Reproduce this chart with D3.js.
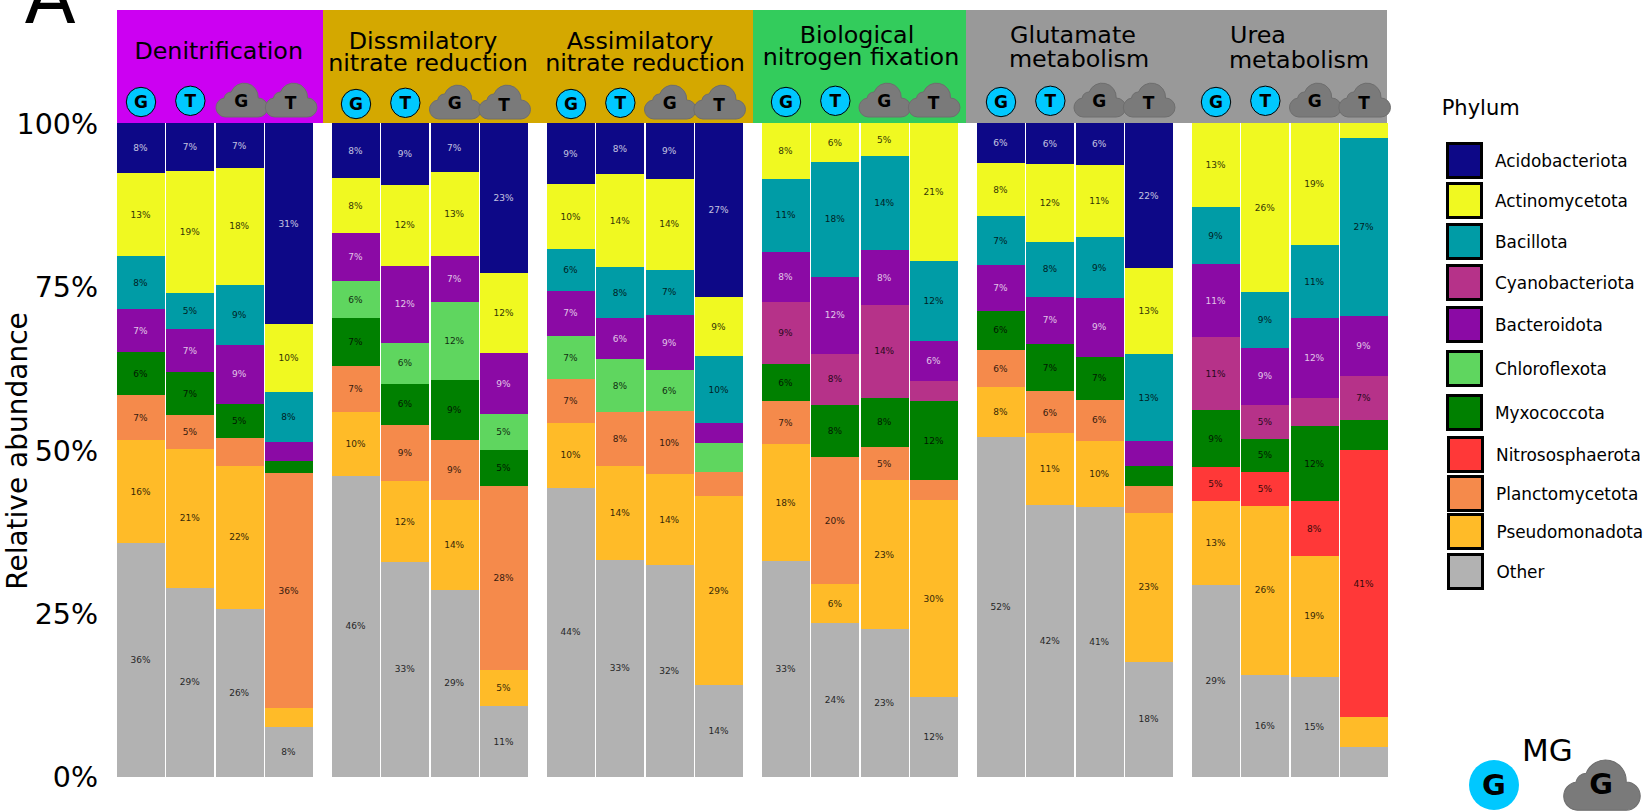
<!DOCTYPE html>
<html>
<head>
<meta charset="utf-8">
<script src="https://d3js.org/d3.v7.min.js"></script>
<style>
  html, body { margin:0; padding:0; background:#fff; }
  svg { display:block; }
  text { font-family:"DejaVu Sans", sans-serif; }
</style>
</head>
<body>
<svg class="svg"></svg>
<script>
// data (% per sample, 4 samples per pathway)
const pathways = ["Denitrification", "Dissmilatory nitrate reduction", "Assimilatory nitrate reduction",
                  "Biological nitrogen fixation", "Glutamate metabolism", "Urea metabolism"];
const sampleLetters = ["G", "T", "G", "T"];
const sampleShapes = ["circle", "circle", "cloud", "cloud"];
const phyla = ["Acidobacteriota", "Actinomycetota", "Bacillota", "Cyanobacteriota", "Bacteroidota",
               "Chloroflexota", "Myxococcota", "Nitrososphaerota", "Planctomycetota", "Pseudomonadota", "Other"];

const acidobacteriota = [7.6,7.3,6.8,30.7, 8.4,9.4,7.49,22.9, 9.3,7.8,8.5,26.6, 0,0,0,0, 6.1,6.2,6.4,22.1, 0,0,0,0];
const actinomycetota = [12.7,18.7,17.9,10.49, 8.4,12.4,12.9,12.2, 9.9,14.2,13.9,9.0, 8.49,5.9,5.0,21.1, 8.1,11.9,11.0,13.2, 12.8,25.8,18.6,2.2];
const bacillota = [8.1,5.49,9.2,7.6, 0,0,0,0, 6.4,7.8,6.9,10.3, 11.2,17.6,14.4,12.2, 7.49,8.4,9.3,13.3, 8.7,8.6,11.2,27.2];
const cyanobacteriota = [0,0,0,0, 0,0,0,0, 0,0,0,0, 9.49,7.8,14.2,3.1, 0,0,0,0, 11.2,5.2,4.3,6.7];
const bacteroidota = [6.6,6.5,9.0,3.0, 7.3,11.8,7.0,9.3, 6.9,6.3,8.51,3.1, 7.7,11.8,8.4,6.1, 7.0,7.2,9.0,3.8, 11.2,8.7,12.2,9.2];
const chloroflexota = [0,0,0,0, 5.7,6.3,11.9,5.49, 6.6,8.1,6.3,4.3, 0,0,0,0, 0,0,0,0, 0,0,0,0];
const myxococcota = [6.49,6.6,5.2,1.8, 7.3,6.3,9.2,5.49, 0,0,0,0, 5.7,8.0,7.5,12.1, 6.0,7.3,6.6,3.1, 8.7,5.1,11.5,4.6];
const nitrososphaerota = [0,0,0,0, 0,0,0,0, 0,0,0,0, 0,0,0,0, 0,0,0,0, 5.2,5.2,8.4,40.9];
const planctomycetota = [7.0,5.2,4.3,36.0, 7.0,8.6,9.2,28.2, 6.7,8.3,9.6,3.8, 6.6,19.5,5.1,3.1, 5.7,6.4,6.3,4.1, 0,0,0,0];
const pseudomonadota = [15.6,21.2,21.9,2.9, 9.8,12.4,13.8,5.49, 9.9,14.4,13.9,28.9, 17.9,6.0,22.8,30.1, 7.7,10.9,10.1,22.8, 12.9,25.9,18.5,4.6];
const other = [35.8,28.9,25.7,7.6, 46.0,32.9,28.6,10.8, 44.2,33.2,32.4,14.0, 33.0,23.5,22.6,12.2, 52.0,41.6,41.3,17.6, 29.3,15.6,15.3,4.5];

const yTicks = [0, 0.25, 0.5, 0.75, 1];

// colours
const phylumColors = ["#0d0887", "#f0f921", "#009ca6", "#b63289", "#8b0aa5", "#5fd65f",
                      "#008000", "#ff3838", "#f58a4b", "#ffbb28", "#b2b2b2"];
const headerColors = ["#cc00f2", "#d4a800", "#d4a800", "#33cc5c", "#999999", "#999999"];
const lightLabel = ["Acidobacteriota", "Bacteroidota"];

const seriesByPhylum = {
  Acidobacteriota: acidobacteriota, Actinomycetota: actinomycetota, Bacillota: bacillota,
  Cyanobacteriota: cyanobacteriota, Bacteroidota: bacteroidota, Chloroflexota: chloroflexota,
  Myxococcota: myxococcota, Nitrososphaerota: nitrososphaerota, Planctomycetota: planctomycetota,
  Pseudomonadota: pseudomonadota, Other: other
};

// stacking goes bottom to top; Bacteroidota sits above Cyanobacteriota in the bars
const stackOrder = ["Other", "Pseudomonadota", "Planctomycetota", "Nitrososphaerota", "Myxococcota",
                    "Chloroflexota", "Cyanobacteriota", "Bacteroidota", "Bacillota", "Actinomycetota", "Acidobacteriota"];

const width = 1649, height = 811;
const plot = {top:123.3, bottom:776.7, left:117, facetWidth:196, lastFacet:1192};
const minLabel = 5;

const svg = d3.select("svg").attr("width", width).attr("height", height);

const xFacet = d3.scalePoint().domain(pathways).range([plot.left, plot.lastFacet]);
const xBar = d3.scaleBand().domain(d3.range(4)).range([0, plot.facetWidth]).paddingInner(0.027);
const y = d3.scaleLinear().domain([0, 1]).range([plot.bottom, plot.top]);
const color = d3.scaleOrdinal().domain(phyla).range(phylumColors);

const rows = d3.range(pathways.length * 4).map(i => {
  const row = {facet: pathways[Math.floor(i / 4)], bar: i % 4};
  phyla.forEach(p => { row[p] = seriesByPhylum[p][i]; });
  return row;
});

const stacked = d3.stack().keys(stackOrder).offset(d3.stackOffsetExpand)(rows);
const barX = d => xFacet(d.data.facet) + xBar(d.data.bar);

// header bands
const headerEdges = [117, 323, 537.5, 752.5, 966, 1180, 1387];
svg.append("g").selectAll("rect")
  .data(pathways)
  .enter().append("rect")
  .attr("x", (d, i) => headerEdges[i])
  .attr("y", 10)
  .attr("width", (d, i) => headerEdges[i + 1] - headerEdges[i])
  .attr("height", plot.top - 10)
  .attr("fill", (d, i) => headerColors[i])
  .attr("shape-rendering", "crispEdges");

// header titles, placed by hand like the original
const headerLines = [
  ["Denitrification", 218.7, 59], ["Dissmilatory", 423, 49], ["nitrate reduction", 428, 71],
  ["Assimilatory", 640, 49], ["nitrate reduction", 645, 71], ["Biological", 857, 43],
  ["nitrogen fixation", 861, 65], ["Glutamate", 1073, 43], ["metabolism", 1079, 67],
  ["Urea", 1258, 43], ["metabolism", 1299, 68]
];
svg.append("g").selectAll("text")
  .data(headerLines)
  .enter().append("text")
  .attr("x", d => d[1])
  .attr("y", d => d[2])
  .attr("text-anchor", "middle")
  .style("font-size", "23.8px")
  .style("fill", "#000")
  .text(d => d[0]);

// sample icons
const cloudPath = "M-16,17 A9.5,9.5 0 0 1 -17,-1.9 A7.5,7.5 0 0 1 -10,-8 A14,14 0 0 1 17,-2 A9.5,9.5 0 0 1 17,17 Z";
const facetIconDy = [0, 2, 2, 0, 0, 0];
const facetCloudDx = [1.5, 0, 0, -0.5, -0.5, 0];

function drawIcon(g, shape, letter, size) {
  if (shape === "circle") {
    g.append("circle").attr("r", 14.7).attr("fill", "#00c8ff").attr("stroke", "#000").attr("stroke-width", 1);
  } else {
    g.append("path").attr("d", cloudPath).attr("fill", "#7a7a7a").attr("stroke", "#6e6e6e").attr("stroke-width", 1);
  }
  g.append("text")
    .attr("text-anchor", "middle")
    .attr("y", shape === "cloud" && letter === "T" ? 2.5 : 0)
    .attr("dy", shape === "circle" ? "0.36em" : "0.4em")
    .style("font-size", size + "px")
    .style("font-weight", "bold")
    .style("fill", "#000")
    .text(letter);
}

pathways.forEach((p, fi) => {
  d3.range(4).forEach(b => {
    const isCloud = sampleShapes[b] === "cloud";
    const g = svg.append("g")
      .attr("transform", "translate(" + (xFacet(p) + xBar(b) + xBar.bandwidth() / 2 + (isCloud ? facetCloudDx[fi] : 0)) + "," +
        (facetIconDy[fi] + (isCloud ? 100 : (b === 0 ? 102 : 100.8))) + ")");
    drawIcon(g, sampleShapes[b], sampleLetters[b], 17);
  });
});

// stacked bars
const layers = svg.append("g").selectAll("g")
  .data(stacked)
  .enter().append("g")
  .attr("fill", d => color(d.key));

layers.selectAll("rect")
  .data(d => d)
  .enter().append("rect")
  .attr("x", barX)
  .attr("y", d => y(d[1]))
  .attr("width", xBar.bandwidth())
  .attr("height", d => y(d[0]) - y(d[1]))
  .attr("shape-rendering", "crispEdges");

layers.selectAll("text")
  .data(d => d.map(s => ({key: d.key, s: s})))
  .enter().filter(d => d.s.data[d.key] >= minLabel).append("text")
  .attr("x", d => barX(d.s) + xBar.bandwidth() / 2 - 0.5)
  .attr("y", d => (y(d.s[0]) + y(d.s[1])) / 2)
  .attr("dy", "0.35em")
  .attr("text-anchor", "middle")
  .style("font-size", "9px")
  .style("fill", d => lightLabel.includes(d.key) ? "#fff" : "#000")
  .style("opacity", d => lightLabel.includes(d.key) ? 0.75 : 0.8)
  .text(d => Math.round(d.s.data[d.key]) + "%");

// y axis, no ticks or line
const yAxis = svg.append("g")
  .attr("transform", "translate(" + plot.left + ",1)")
  .call(d3.axisLeft(y).tickValues(yTicks).tickFormat(d3.format(".0%")).tickSize(0).tickPadding(19));
yAxis.select(".domain").remove();
yAxis.selectAll("text")
  .style("font-family", '"DejaVu Sans", sans-serif')
  .style("font-size", "28.5px")
  .style("fill", "#000");

svg.append("text")
  .attr("transform", "translate(26.5,451) rotate(-90)")
  .attr("text-anchor", "middle")
  .style("font-size", "28px")
  .style("fill", "#000")
  .text("Relative abundance");

// panel letter, clipped by the top of the page
svg.append("text")
  .attr("x", 24.5)
  .attr("y", 23)
  .style("font-size", "75px")
  .style("fill", "#000")
  .text("A");

// legend
svg.append("text")
  .attr("x", 1441.7)
  .attr("y", 115)
  .style("font-size", "21px")
  .style("fill", "#000")
  .text("Phylum");

const legendY = [160.7, 200, 241, 282, 324, 368.5, 412, 454, 493.7, 531.7, 571];
const legendDx = [0, 0, 0, 0, 0, 0, 0, 1, 1, 1.5, 1.5];
const legend = svg.append("g").selectAll("g")
  .data(phyla)
  .enter().append("g")
  .attr("transform", (d, i) => "translate(" + (1464 + legendDx[i]) + "," + legendY[i] + ")");

legend.append("rect")
  .attr("x", -17)
  .attr("y", -17)
  .attr("width", 34)
  .attr("height", 34)
  .attr("fill", d => color(d))
  .attr("stroke", "#000")
  .attr("stroke-width", 3)
  .attr("shape-rendering", "crispEdges");

legend.append("text")
  .attr("x", 31)
  .attr("y", 6.5)
  .style("font-size", "16.9px")
  .style("fill", "#000")
  .text(d => d);

// MG key, bottom right
svg.append("text")
  .attr("x", 1522)
  .attr("y", 761)
  .style("font-size", "31px")
  .style("fill", "#000")
  .text("MG");

const keyCircle = svg.append("g").attr("transform", "translate(1494,785)");
keyCircle.append("circle").attr("r", 25).attr("fill", "#00c8ff");
keyCircle.append("text")
  .attr("text-anchor", "middle")
  .attr("dy", "0.34em")
  .style("font-size", "29px")
  .style("font-weight", "bold")
  .style("fill", "#000")
  .text("G");

const keyCloud = svg.append("g").attr("transform", "translate(1601,785) scale(1.48)");
keyCloud.append("path").attr("d", cloudPath).attr("fill", "#7a7a7a").attr("stroke", "#6e6e6e").attr("stroke-width", 0.7);
keyCloud.append("text")
  .attr("text-anchor", "middle")
  .attr("dy", "0.32em")
  .style("font-size", "19.5px")
  .style("font-weight", "bold")
  .style("fill", "#000")
  .text("G");
</script>
</body>
</html>
